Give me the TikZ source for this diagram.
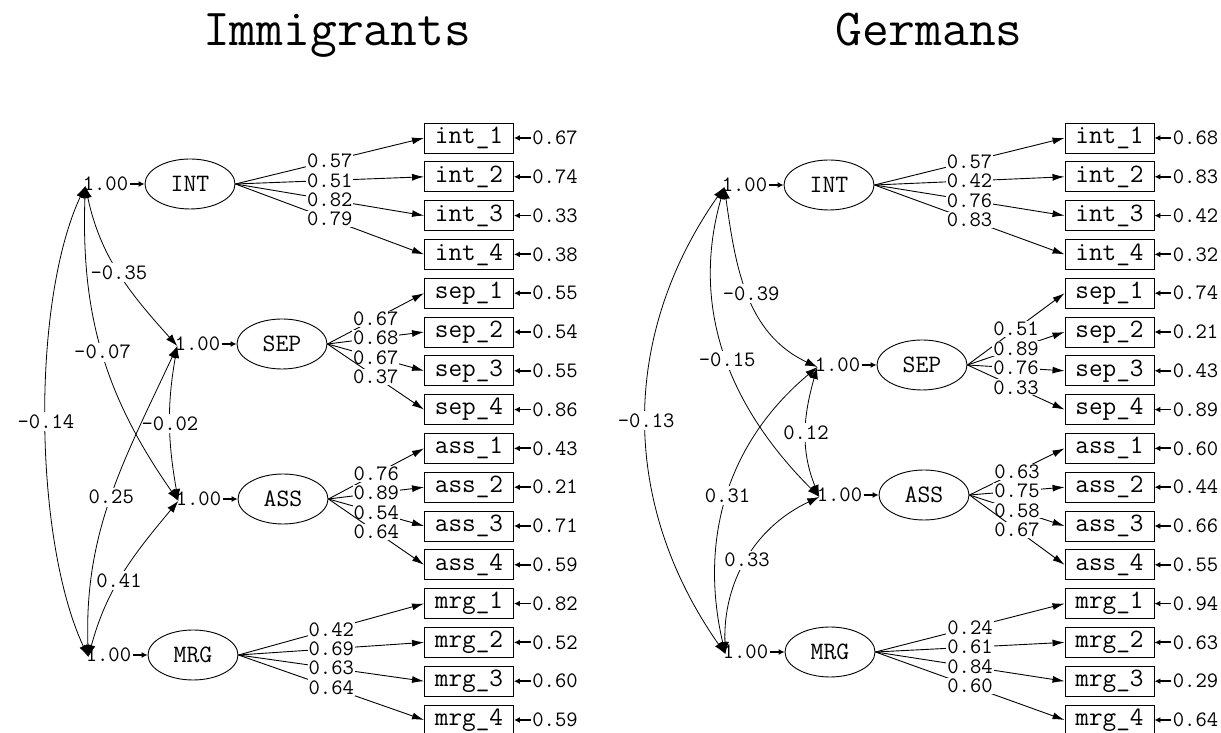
\documentclass[tikz,border=0pt]{standalone}
\usetikzlibrary{arrows.meta,positioning,shapes.geometric}

\begin{document}
\begin{tikzpicture}[x=1pt,y=1pt,line width=0.9pt,every node/.style={inner sep=1pt}]
	\tikzset{
		latent/.style = {draw, ellipse, minimum width=90pt, minimum height=50pt, inner sep=0pt, font=\ttfamily\fontsize{25}{27}\selectfont},
		indic/.style = {draw, rectangle, minimum width=89pt, minimum height=30pt, inner sep=0pt, font=\ttfamily\fontsize{26.5}{28}\selectfont},
		num/.style = {font=\ttfamily\fontsize{22}{24}\selectfont},
		wt/.style = {num, fill=white, inner sep=1pt, pos=0.5},
		cwt/.style = {wt, inner sep=2.5pt},
		title/.style = {anchor=base, font=\ttfamily\fontsize{52}{54}\selectfont},
		load/.style = {-{Latex[length=12pt,width=7pt]}},
		stub/.style = {-{Latex[length=6pt,width=6pt]}, line width=1.8pt},
		cov/.style = {{Latex[length=12pt,width=8pt]}-{Latex[length=12pt,width=8pt]}, line width=0.8pt},
	}
	\useasboundingbox (0,0) rectangle (1221,733);

	\node[title] (tImm) at (337,687) {Immigrants};
	\node[title] (tGer) at (929,687) {Germans};

	% Immigrants
	\node[latent] (Lint) at (190,549) {INT};
	\node[latent] (Lsep) at (282,389) {SEP};
	\node[latent] (Lass) at (283,234) {ASS};
	\node[latent] (Lmrg) at (193,78) {MRG};
	\foreach \f in {int,sep,ass,mrg}{
		\node[num, left=15pt of L\f] (Lv\f) {1.00};
		\draw[stub] (Lv\f) -- (L\f);
		\coordinate (Lc\f) at ([xshift=4pt,yshift=-2pt]Lv\f.west);
	}
	\foreach \f/\k/\l/\e [count=\c from 0] in {int/1/0.57/0.67, int/2/0.51/0.74, int/3/0.82/0.33, int/4/0.79/0.38,
		sep/1/0.67/0.55, sep/2/0.68/0.54, sep/3/0.67/0.55, sep/4/0.37/0.86,
		ass/1/0.76/0.43, ass/2/0.89/0.21, ass/3/0.54/0.71, ass/4/0.64/0.59,
		mrg/1/0.42/0.82, mrg/2/0.69/0.52, mrg/3/0.63/0.60, mrg/4/0.64/0.59}{
		\node[indic] (L\f\k) at (469,595-38.8*\c) {\f\_\k};
		\node[num, right=17pt of L\f\k] (Le\f\k) {\e};
		\draw[stub] (Le\f\k) -- (L\f\k);
		\draw[load] (L\f.east) -- node[wt] {\l} (L\f\k.west);
	}
	\draw[cov] (Lcint) to[out=-78,in=132] node[cwt] {-0.35} (Lcsep);
	\draw[cov] (Lcint) to[out=-92,in=125] node[cwt] {-0.07} (Lcass);
	\draw[cov] (Lcint) to[out=-115,in=115,looseness=0.7] node[cwt] {-0.14} (Lcmrg);
	\draw[cov] (Lcsep) to[out=-100,in=100] node[cwt] {-0.02} (Lcass);
	\draw[cov] (Lcsep) to[out=-115,in=92] node[cwt] {0.25} (Lcmrg);
	\draw[cov] (Lcass) to[out=-130,in=75] node[cwt,pos=0.55] {0.41} (Lcmrg);

	% Germans
	\node[latent] (Gint) at (829,548) {INT};
	\node[latent] (Gsep) at (922,368) {SEP};
	\node[latent] (Gass) at (924,238) {ASS};
	\node[latent] (Gmrg) at (830,81) {MRG};
	\foreach \f in {int,sep,ass,mrg}{
		\node[num, left=15pt of G\f] (Gv\f) {1.00};
		\draw[stub] (Gv\f) -- (G\f);
		\coordinate (Gc\f) at ([xshift=4pt,yshift=-2pt]Gv\f.west);
	}
	\foreach \f/\k/\l/\e [count=\c from 0] in {int/1/0.57/0.68, int/2/0.42/0.83, int/3/0.76/0.42, int/4/0.83/0.32,
		sep/1/0.51/0.74, sep/2/0.89/0.21, sep/3/0.76/0.43, sep/4/0.33/0.89,
		ass/1/0.63/0.60, ass/2/0.75/0.44, ass/3/0.58/0.66, ass/4/0.67/0.55,
		mrg/1/0.24/0.94, mrg/2/0.61/0.63, mrg/3/0.84/0.29, mrg/4/0.60/0.64}{
		\node[indic] (G\f\k) at (1109.5,595-38.8*\c) {\f\_\k};
		\node[num, right=17pt of G\f\k] (Ge\f\k) {\e};
		\draw[stub] (Ge\f\k) -- (G\f\k);
		\draw[load] (G\f.east) -- node[wt] {\l} (G\f\k.west);
	}
	\draw[cov] (Gcint) to[out=-82,in=155] node[cwt,xshift=3pt] {-0.39} (Gcsep);
	\draw[cov] (Gcint) to[out=-106,in=135] node[cwt,pos=0.52] {-0.15} (Gcass);
	\draw[cov] (Gcint) to[out=-125,in=125] node[cwt] {-0.13} (Gcmrg);
	\draw[cov] (Gcsep) to[out=-106,in=112] node[cwt] {0.12} (Gcass);
	\draw[cov] (Gcsep) to[out=-140,in=103] node[cwt] {0.31} (Gcmrg);
	\draw[cov] (Gcass) to[out=-155,in=92] node[cwt] {0.33} (Gcmrg);
\end{tikzpicture}
\end{document}
